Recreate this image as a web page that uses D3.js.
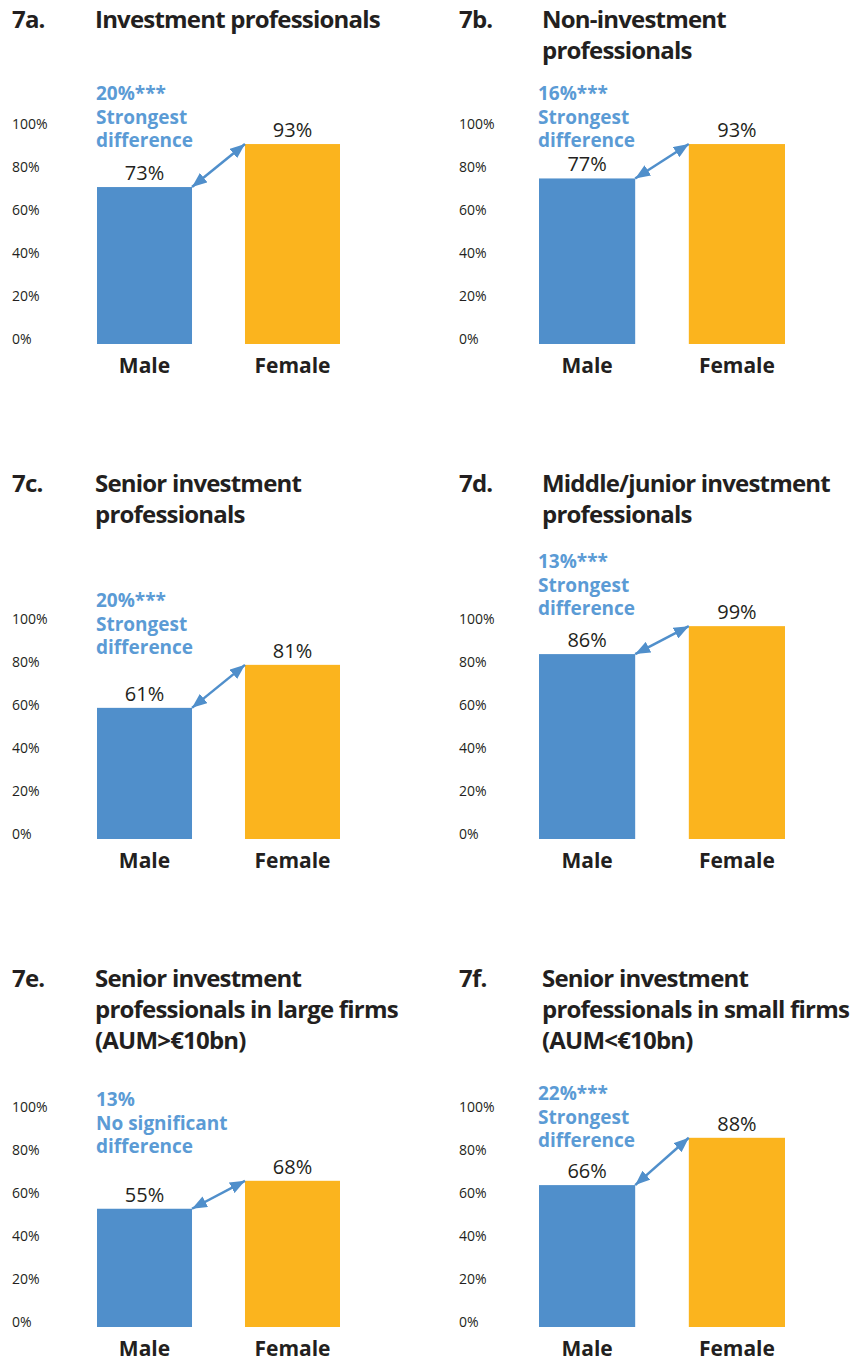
<!DOCTYPE html>
<meta charset="utf-8">
<script src="https://d3js.org/d3.v7.min.js"></script>
<style>
html, body { margin: 0; padding: 0; background: #fff; }
text { font-family: "Open Sans", "Noto Sans", sans-serif; fill: #231f20; }
</style>
<body>
<div id="chart"></div>
<script>

// panel data
var panelIds = ["7a.", "7b.", "7c.", "7d.", "7e.", "7f."];
var panelTitles = [
  ["Investment professionals"],
  ["Non-investment", "professionals"],
  ["Senior investment", "professionals"],
  ["Middle/junior investment", "professionals"],
  ["Senior investment", "professionals in large firms", "(AUM>€10bn)"],
  ["Senior investment", "professionals in small firms", "(AUM<€10bn)"]
];
var genders = ["Male", "Female"];
var maleValues = [73, 77, 61, 86, 55, 66];
var femaleValues = [93, 93, 81, 99, 68, 88];
var diffLabels = ["20%***", "16%***", "20%***", "13%***", "13%", "22%***"];
var diffNotes = [
  ["Strongest", "difference"],
  ["Strongest", "difference"],
  ["Strongest", "difference"],
  ["Strongest", "difference"],
  ["No significant", "difference"],
  ["Strongest", "difference"]
];
var yTicks = [0, 20, 40, 60, 80, 100];

// layout
var width = 853, height = 1361;
var rowTitleY = [28, 492, 987];
var rowZeroY = [344, 839, 1327];
var colTextX = [12, 459];
var colTitleX = [95, 542];
var barRange = [[97, 340], [539, 785]];
var noteTop = [244, 244, 232, 271, 221, 227];
var barColor = {Male: "#508fcb", Female: "#fbb41e"};
var noteColor = "#5b9bd5";

var svg = d3.select("#chart")
  .append("svg")
    .attr("width", width)
    .attr("height", height);

var defs = svg.append("defs");
["start", "end"].forEach(function(k) {
  defs.append("marker")
      .attr("id", "arrow-" + k)
      .attr("markerUnits", "userSpaceOnUse")
      .attr("viewBox", "0 0 15 12")
      .attr("refX", 15)
      .attr("refY", 6)
      .attr("markerWidth", 15)
      .attr("markerHeight", 12)
      .attr("orient", k == "start" ? "auto-start-reverse" : "auto")
    .append("path")
      .attr("d", "M0,0 L15,6 L0,12 Z")
      .attr("fill", barColor.Male);
});

panelIds.forEach(function(id, i) {
  var row = Math.floor(i / 2), col = i % 2;
  var zero = rowZeroY[row];
  var g = svg.append("g").attr("class", "panel");

  var values = [maleValues[i], femaleValues[i]];

  var x = d3.scaleBand()
    .domain(genders)
    .range(barRange[col])
    .paddingInner(0.358)
    .paddingOuter(0);

  var y = d3.scaleLinear()
    .domain([0, 100])
    .range([zero, zero - 215]);

  // title
  var t = g.append("g")
    .attr("font-size", 24)
    .attr("font-weight", 700)
    .attr("letter-spacing", -0.8);
  t.append("text")
    .attr("x", colTextX[col])
    .attr("y", rowTitleY[row])
    .text(id);
  panelTitles[i].forEach(function(line, j) {
    t.append("text")
      .attr("x", colTitleX[col])
      .attr("y", rowTitleY[row] + j * 31)
      .text(line);
  });

  // y axis
  var axis = g.append("g")
    .attr("transform", "translate(" + colTextX[col] + ",-5)")
    .call(d3.axisLeft(y).tickValues(yTicks).tickSize(0).tickFormat(function(d) { return d + "%"; }));
  axis.select(".domain").remove();
  axis.selectAll("text")
    .attr("x", 0)
    .attr("text-anchor", "start")
    .attr("font-family", "Open Sans")
    .attr("font-size", 14)
    .attr("fill", "#231f20");

  // bars
  g.selectAll(".bar")
    .data(genders)
    .enter().append("rect")
      .attr("class", "bar")
      .attr("x", function(d) { return x(d); })
      .attr("width", x.bandwidth())
      .attr("y", function(d, k) { return y(values[k]); })
      .attr("height", function(d, k) { return zero - y(values[k]); })
      .attr("fill", function(d) { return barColor[d]; });

  // value labels
  g.selectAll(".val")
    .data(genders)
    .enter().append("text")
      .attr("class", "val")
      .attr("x", function(d) { return x(d) + x.bandwidth() / 2; })
      .attr("y", function(d, k) { return y(values[k]) - 7; })
      .attr("text-anchor", "middle")
      .attr("font-size", 20)
      .text(function(d, k) { return values[k] + "%"; });

  // category labels
  g.selectAll(".cat")
    .data(genders)
    .enter().append("text")
      .attr("class", "cat")
      .attr("x", function(d) { return x(d) + x.bandwidth() / 2; })
      .attr("y", zero + 29)
      .attr("text-anchor", "middle")
      .attr("font-size", 21)
      .attr("font-weight", 700)
      .text(function(d) { return d; });

  // difference arrow
  g.append("line")
    .attr("x1", x("Male") + x.bandwidth())
    .attr("y1", y(values[0]))
    .attr("x2", x("Female"))
    .attr("y2", y(values[1]))
    .attr("stroke", barColor.Male)
    .attr("stroke-width", 2.5)
    .attr("marker-start", "url(#arrow-start)")
    .attr("marker-end", "url(#arrow-end)");

  // difference note
  var noteLines = [diffLabels[i]].concat(diffNotes[i]);
  g.selectAll(".note")
    .data(noteLines)
    .enter().append("text")
      .attr("class", "note")
      .attr("x", x("Male") - 1)
      .attr("y", function(d, k) { return zero - noteTop[i] + k * 23.5; })
      .attr("font-size", 19)
      .attr("font-weight", 700)
      .style("fill", noteColor)
      .text(function(d) { return d; });
});

</script>
</body>
